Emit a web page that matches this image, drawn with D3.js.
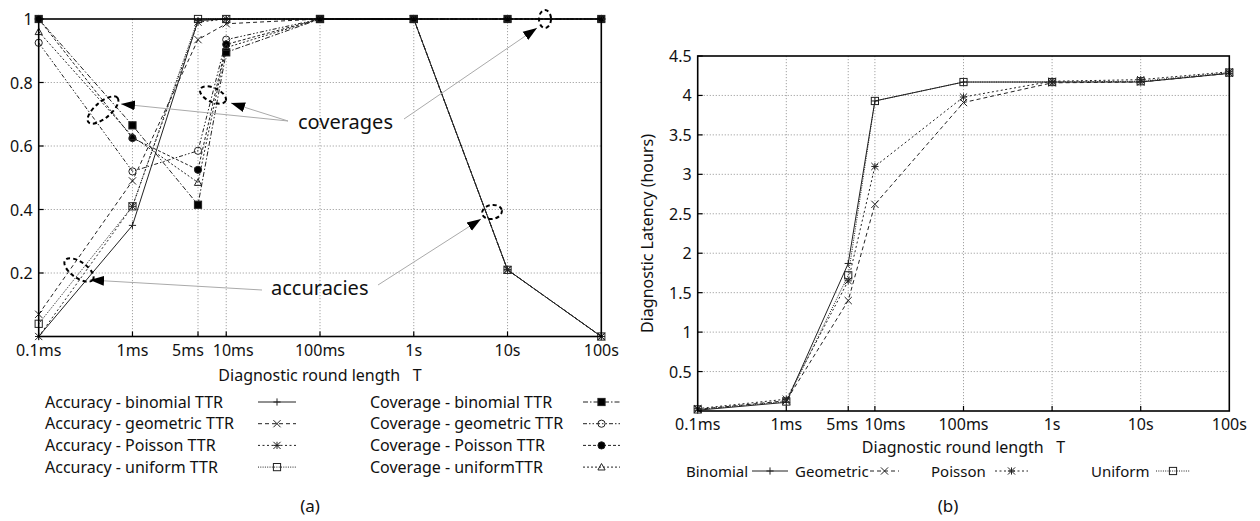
<!DOCTYPE html>
<html>
<head>
<meta charset="utf-8">
<script src="https://cdn.jsdelivr.net/npm/d3@7"></script>
<style>
  body { margin: 0; background: #fff; }
  text { font-family: "Noto Sans", "Open Sans", sans-serif; fill: #111; }
</style>
</head>
<body>
<svg id="chart" width="1260" height="521"></svg>
<script>
// round lengths in seconds
const roundLengths = [1e-4, 1e-3, 5e-3, 1e-2, 1e-1, 1, 10, 100]
const roundLabels = ['0.1ms', '1ms', '5ms', '10ms', '100ms', '1s', '10s', '100s']

// panel (a): accuracy / coverage
const accBinomial  = [0.00, 0.35, 0.995, 1.00, 1, 1, 0.21, 0]
const accGeometric = [0.07, 0.49, 0.935, 0.985, 1, 1, 0.21, 0]
const accPoisson   = [0.00, 0.41, 0.99, 1.00, 1, 1, 0.21, 0]
const accUniform   = [0.04, 0.41, 1.00, 1.00, 1, 1, 0.21, 0]
const covBinomial  = [1.00, 0.665, 0.415, 0.895, 1, 1, 1, 1]
const covGeometric = [0.925, 0.52, 0.585, 0.935, 1, 1, 1, 1]
const covPoisson   = [1.00, 0.625, 0.525, 0.92, 1, 1, 1, 1]
const covUniform   = [0.96, 0.63, 0.485, 0.91, 1, 1, 1, 1]
const ratioTicks = [0.2, 0.4, 0.6, 0.8, 1]

// panel (b): diagnostic latency (hours)
const latBinomial  = [0.01, 0.11, 1.87, 3.93, 4.17, 4.17, 4.17, 4.28]
const latGeometric = [0.02, 0.13, 1.40, 2.62, 3.91, 4.16, 4.17, 4.28]
const latPoisson   = [0.03, 0.15, 1.65, 3.10, 3.98, 4.18, 4.20, 4.30]
const latUniform   = [0.02, 0.12, 1.72, 3.93, 4.17, 4.17, 4.18, 4.29]
const latTicks = [0.5, 1, 1.5, 2, 2.5, 3, 3.5, 4, 4.5]

const svg = d3.select('#chart')
svg.append('rect').attr('width', 1260).attr('height', 521).attr('fill', '#fff')

const defs = svg.append('defs')
defs.append('marker').attr('id', 'arrowHead')
    .attr('viewBox', '0 0 10 10').attr('refX', 10).attr('refY', 5)
    .attr('markerWidth', 14).attr('markerHeight', 14).attr('markerUnits', 'userSpaceOnUse')
    .attr('orient', 'auto')
  .append('path').attr('d', 'M0,1.5 L10,5 L0,8.5 Z').attr('fill', '#000')

const ink = '#222'

// point symbols (open ones are left unfilled, like gnuplot)
const drawSymbol = (g, type, x, y) => {
  const s = 3.6
  if (type === 'plus') {
    g.append('path').attr('d', `M${x-s},${y}H${x+s}M${x},${y-s}V${y+s}`).attr('stroke', ink).attr('fill', 'none')
  } else if (type === 'cross') {
    g.append('path').attr('d', `M${x-s},${y-s}L${x+s},${y+s}M${x-s},${y+s}L${x+s},${y-s}`).attr('stroke', ink).attr('fill', 'none')
  } else if (type === 'star') {
    g.append('path').attr('d', `M${x-s},${y}H${x+s}M${x},${y-s}V${y+s}M${x-s},${y-s}L${x+s},${y+s}M${x-s},${y+s}L${x+s},${y-s}`).attr('stroke', ink).attr('fill', 'none')
  } else if (type === 'square' || type === 'fsquare') {
    g.append('rect').attr('x', x-s).attr('y', y-s).attr('width', 2*s).attr('height', 2*s)
     .attr('stroke', ink).attr('fill', type === 'fsquare' ? '#000' : 'none')
  } else if (type === 'circle' || type === 'fcircle') {
    g.append('circle').attr('cx', x).attr('cy', y).attr('r', s)
     .attr('stroke', ink).attr('fill', type === 'fcircle' ? '#000' : 'none')
  } else if (type === 'triangle') {
    g.append('path').attr('d', `M${x},${y-s}L${x+s},${y+s*0.8}L${x-s},${y+s*0.8}Z`).attr('stroke', ink).attr('fill', 'none')
  }
}

const drawPanel = p => {
  const g = svg.append('g')
  const x = d3.scaleLog().domain([1e-4, 100]).range([p.left, p.right])
  const y = d3.scaleLinear().domain(p.yDomain).range([p.bottom, p.top])

  // grid
  g.selectAll('.vgrid').data(roundLengths.slice(1, -1)).join('line')
    .attr('x1', d => x(d)).attr('x2', d => x(d)).attr('y1', p.top).attr('y2', p.bottom)
    .attr('stroke', '#999').attr('stroke-dasharray', '1.2,1.8').attr('stroke-width', 0.9)
  g.selectAll('.hgrid').data(p.yTicks.filter(d => d < p.yDomain[1])).join('line')
    .attr('x1', p.left).attr('x2', p.right).attr('y1', d => y(d)).attr('y2', d => y(d))
    .attr('stroke', '#999').attr('stroke-dasharray', '1.2,1.8').attr('stroke-width', 0.9)

  // inward ticks
  g.selectAll('.xt').data(roundLengths.slice(1, -1)).join('line')
    .attr('x1', d => x(d)).attr('x2', d => x(d)).attr('y1', p.bottom).attr('y2', p.bottom - 5)
    .attr('stroke', '#000').attr('stroke-width', 1.2)
  g.selectAll('.yt').data(p.yTicks).join('line')
    .attr('x1', p.left).attr('x2', p.left + 5).attr('y1', d => y(d)).attr('y2', d => y(d))
    .attr('stroke', '#000').attr('stroke-width', 1.2)

  // tick labels (5ms / 10ms nudged apart as in the original)
  g.selectAll('.xl').data(roundLengths).join('text')
    .attr('x', (d, i) => x(d) + (p.labelShift[i] || 0)).attr('y', p.bottom + 19).attr('text-anchor', 'middle')
    .attr('font-size', 16).text((d, i) => roundLabels[i])
  g.selectAll('.yl').data(p.yTicks).join('text')
    .attr('x', p.left - 6).attr('y', d => y(d) + 6).attr('text-anchor', 'end')
    .attr('font-size', 16).text(d => d)

  // series
  const line = d3.line().x((d, i) => x(roundLengths[i])).y(d => y(d))
  p.series.forEach(s => {
    g.append('path').datum(s.values).attr('d', line)
      .attr('fill', 'none').attr('stroke', ink).attr('stroke-width', 1)
      .attr('stroke-dasharray', s.dash)
  })
  p.series.forEach(s => {
    const mg = g.append('g')
    s.values.forEach((v, i) => drawSymbol(mg, s.symbol, x(roundLengths[i]), y(v)))
  })

  // frame
  g.append('rect').attr('x', p.left).attr('y', p.top)
    .attr('width', p.right - p.left).attr('height', p.bottom - p.top)
    .attr('fill', 'none').attr('stroke', '#000').attr('stroke-width', 1.6)

  // axis titles
  g.append('text').attr('x', (p.left + p.right) / 2).attr('y', p.xTitleY)
    .attr('text-anchor', 'middle').attr('font-size', 16)
    .attr('xml:space', 'preserve').text('Diagnostic round length   T')
  if (p.yTitle) {
    g.append('text').attr('transform', `translate(${p.yTitleX},${(p.top + p.bottom) / 2}) rotate(-90)`)
      .attr('text-anchor', 'middle').attr('font-size', 16).text(p.yTitle)
  }

  // legend
  p.legend.forEach(l => {
    const s = p.series[l.idx]
    g.append('text').attr('x', l.tx).attr('y', l.ty + 5.5).attr('font-size', p.legendSize).text(s.name)
    g.append('line').attr('x1', l.sx0).attr('x2', l.sx1).attr('y1', l.ty).attr('y2', l.ty)
      .attr('stroke', ink).attr('stroke-dasharray', s.dash)
    drawSymbol(g, s.symbol, (l.sx0 + l.sx1) / 2, l.ty)
  })

  g.append('text').attr('x', p.captionX).attr('y', 512).attr('text-anchor', 'middle')
    .attr('font-size', 17).text(p.caption)
  return { x, y, g }
}

const panelA = drawPanel({
  left: 38.7, right: 601.3, top: 19, bottom: 336.5,
  yDomain: [0, 1], yTicks: ratioTicks, xTitleY: 381,
  labelShift: [0, 0, -10, 7, 0, 0, 0, 0],
  caption: '(a)', captionX: 310, legendSize: 16,
  series: [
    { name: 'Accuracy - binomial TTR',  values: accBinomial,  symbol: 'plus',     dash: null },
    { name: 'Accuracy - geometric TTR', values: accGeometric, symbol: 'cross',    dash: '4,3' },
    { name: 'Accuracy - Poisson TTR',   values: accPoisson,   symbol: 'star',     dash: '2,2.5' },
    { name: 'Accuracy - uniform TTR',   values: accUniform,   symbol: 'square',   dash: '1,1.3' },
    { name: 'Coverage - binomial TTR',  values: covBinomial,  symbol: 'fsquare',  dash: '5,2,1.5,2' },
    { name: 'Coverage - geometric TTR', values: covGeometric, symbol: 'circle',   dash: '4,2,1.5,2,1.5,2' },
    { name: 'Coverage - Poisson TTR',   values: covPoisson,   symbol: 'fcircle',  dash: '3,2' },
    { name: 'Coverage - uniformTTR',    values: covUniform,   symbol: 'triangle', dash: '2,2' }
  ],
  legend: [0, 1, 2, 3, 4, 5, 6, 7].map(i => ({
    idx: i,
    tx: i < 4 ? 45 : 370,
    ty: 402 + (i % 4) * 21.7,
    sx0: i < 4 ? 258 : 583,
    sx1: i < 4 ? 296 : 620
  }))
})

const panelB = drawPanel({
  left: 697.7, right: 1229.3, top: 56, bottom: 411,
  yDomain: [0, 4.5], yTicks: latTicks, xTitleY: 453,
  labelShift: [0, 0, -6, 10, 0, 0, 0, 0],
  yTitle: 'Diagnostic Latency (hours)', yTitleX: 653,
  caption: '(b)', captionX: 948, legendSize: 15,
  series: [
    { name: 'Binomial',  values: latBinomial,  symbol: 'plus',   dash: null },
    { name: 'Geometric', values: latGeometric, symbol: 'cross',  dash: '4,3' },
    { name: 'Poisson',   values: latPoisson,   symbol: 'star',   dash: '2,2.5' },
    { name: 'Uniform',   values: latUniform,   symbol: 'square', dash: '1,1.3' }
  ],
  legend: [
    { idx: 0, tx: 686, ty: 471, sx0: 752, sx1: 788 },
    { idx: 1, tx: 795, ty: 471, sx0: 870, sx1: 899 },
    { idx: 2, tx: 931, ty: 471, sx0: 995, sx1: 1028 },
    { idx: 3, tx: 1091, ty: 471, sx0: 1156, sx1: 1190 }
  ]
})

// annotations on panel (a), in pixel space of the panel
const ann = panelA.g.append('g')
const annArrows = [
  [288, 121, 121, 104], [288, 121, 231, 103], [404, 119, 537, 28],
  [262, 290, 90, 280], [378, 285, 481, 219]
]
const annRings = [
  [103, 110, 19, 8, -40], [213, 95, 14, 7, 25], [545, 19, 6, 9, 0],
  [79, 270, 17, 8, 35], [492, 212, 10, 7, -10]
]
ann.selectAll('.arr').data(annArrows).join('line')
  .attr('x1', d => d[0]).attr('y1', d => d[1]).attr('x2', d => d[2]).attr('y2', d => d[3])
  .attr('stroke', '#aaa').attr('stroke-width', 1).attr('marker-end', 'url(#arrowHead)')
ann.selectAll('.ring').data(annRings).join('ellipse')
  .attr('transform', d => `translate(${d[0]},${d[1]}) rotate(${d[4]})`)
  .attr('rx', d => d[2]).attr('ry', d => d[3])
  .attr('fill', 'none').attr('stroke', '#000').attr('stroke-width', 2).attr('stroke-dasharray', '4,3')
ann.append('text').attr('x', 298).attr('y', 129).attr('font-size', 20).text('coverages')
ann.append('text').attr('x', 271).attr('y', 295).attr('font-size', 20).text('accuracies')
</script>
</body>
</html>
